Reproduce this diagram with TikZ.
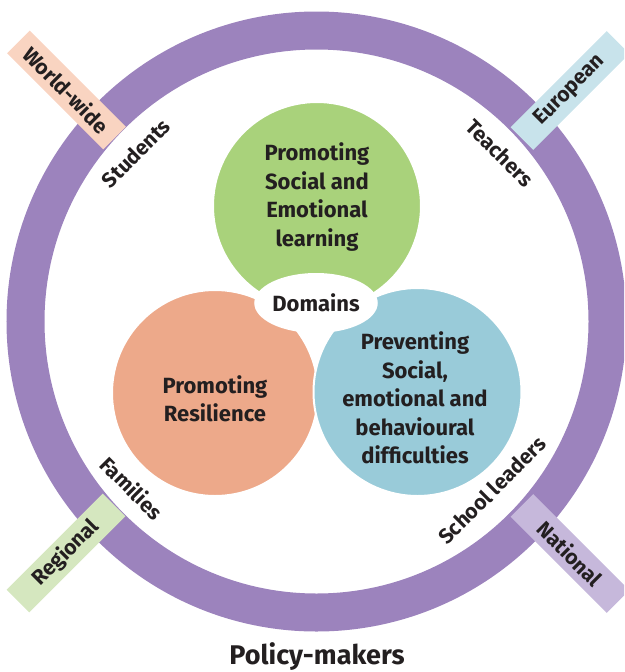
\documentclass[tikz,border=0pt]{standalone}
\usepackage{fontspec}
\setmainfont{Fira Sans}
\usetikzlibrary{shapes.geometric}
\definecolor{ringc}{HTML}{9C83BD}
\definecolor{greenc}{HTML}{A9D27B}
\definecolor{orangec}{HTML}{EDA98A}
\definecolor{bluec}{HTML}{99CBD9}
\definecolor{ink}{HTML}{231F20}
\definecolor{wwc}{HTML}{F9D4C1}
\definecolor{euc}{HTML}{C8E3EB}
\definecolor{rgc}{HTML}{D5E7BF}
\definecolor{nac}{HTML}{C6B8DB}
\tikzset{
  base/.style={font=\bfseries, text=ink},
  domcircle/.style={circle, draw=white, line width=2pt, inner sep=0pt, minimum size=#1},
  domtext/.style={base, align=center, font=\bfseries\fontsize{22}{28.5}\selectfont},
  bandbox/.style={base, rectangle, inner sep=0pt, minimum width=136pt, minimum height=32pt, font=\bfseries\fontsize{21}{24}\selectfont},
  ringlabel/.style={base, font=\bfseries\fontsize{21}{24}\selectfont},
}
\begin{document}
\begin{tikzpicture}[x=1pt,y=-1pt]
\useasboundingbox (0,0) rectangle (624,672);
\begin{scope}
\clip (0,0) rectangle (624,672);
% ring
\node[circle, draw=ringc, line width=38pt, minimum size=582pt, inner sep=0pt] (ring) at (316.5,321.5) {};
% bands
\node[bandbox, fill=wwc, rotate=-45] (ww) at (66.5,90) {World-wide};
\node[bandbox, fill=euc, rotate=45] (eu) at (570,90.5) {European};
\node[bandbox, fill=rgc, rotate=45] (rg) at (66,553) {Regional};
\node[bandbox, fill=nac, rotate=-45] (na) at (570,553.5) {National};
\end{scope}
% ring labels
\node[ringlabel, rotate=45] (students) at (136,153) {Students};
\node[ringlabel, rotate=-45] (teachers) at (500,153) {Teachers};
\node[ringlabel, rotate=-45] (families) at (132,488) {Families};
\node[ringlabel, rotate=45] (leaders) at (492,490) {School leaders};
% domain circles
\node[domcircle=208pt, fill=greenc] (sel) at (317,206) {};
\node[domcircle=206pt, fill=orangec] (res) at (215,393) {};
\node[domcircle=208pt, fill=bluec] (prev) at (417.5,392) {};
\node[domtext] (selt) at (317,197) {Promoting\\Social and\\Emotional\\learning};
\node[domtext] (rest) at (215,399) {Promoting\\Resilience};
\node[domtext] (prevt) at (415,398) {Preventing\\Social,\\emotional and\\behavioural\\difficulties};
% domains ellipse
\node[ellipse, fill=white, inner sep=0pt, minimum width=122pt, minimum height=60pt, base, font=\bfseries\fontsize{22}{24}\selectfont] (dom) at (316,303) {Domains};
% bottom label
\node[base, font=\bfseries\fontsize{27}{30}\selectfont] (policy) at (317,657) {Policy-makers};
\end{tikzpicture}
\end{document}
